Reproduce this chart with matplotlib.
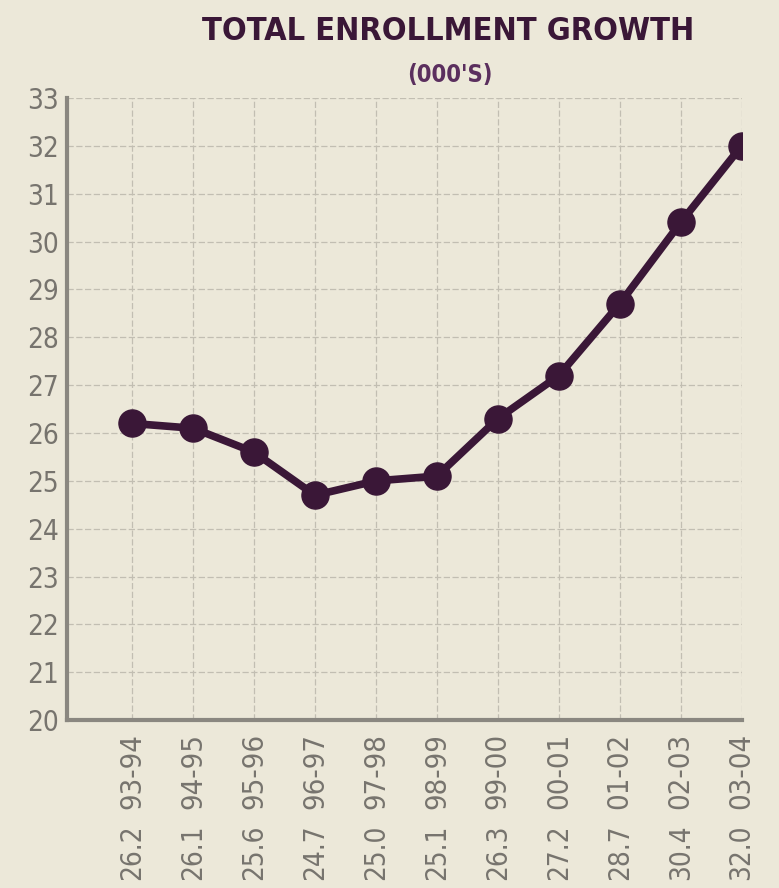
import matplotlib.pyplot as plt
from matplotlib import font_manager, transforms

years = ['93-94', '94-95', '95-96', '96-97', '97-98', '98-99',
         '99-00', '00-01', '01-02', '02-03', '03-04']
enrollment = [26.2, 26.1, 25.6, 24.7, 25.0, 25.1, 26.3, 27.2, 28.7, 30.4, 32.0]
y_ticks = list(range(20, 34))

# look for a narrow / condensed face, otherwise Roboto
narrow = [f for f in font_manager.fontManager.ttflist
          if 'narrow' in f.name.lower() or 'condensed' in f.name.lower()
          or 'narrow' in f.fname.lower() or 'condensed' in f.fname.lower()]
family = narrow[0].name if narrow else 'Roboto'
plt.rcParams['font.family'] = [family, 'DejaVu Sans']
stretch = 'condensed' if narrow else 'normal'

bg = '#ece8d9'
purple = '#3a1737'
grey = '#77746e'

fig = plt.figure(figsize=(7.79, 8.88), dpi=100, facecolor=bg)
ax = fig.add_axes([0.086, 0.189, 0.866, 0.7006])
ax.set_facecolor(bg)

x = list(range(len(years)))
ax.plot(x, enrollment, color=purple, linewidth=5.5, marker='o',
        markersize=19.5, markerfacecolor=purple, markeredgecolor=purple, zorder=3)

ax.set_xlim(-1.07, len(years) - 1)
ax.set_ylim(20, 33)
ax.set_yticks(y_ticks)
ax.set_xticks(x)
ax.set_xticklabels(years, rotation=90, va='top')
ax.tick_params(axis='y', labelsize=20, labelcolor=grey, length=0, pad=6)
ax.tick_params(axis='x', labelsize=21, labelcolor=grey, length=0, pad=9)
for lab in ax.get_xticklabels() + ax.get_yticklabels():
    lab.set_fontstretch(stretch)

ax.grid(True, color='#c2beb2', linestyle=(0, (5, 2)), linewidth=0.9)
ax.set_axisbelow(True)

for s in ['top', 'right']:
    ax.spines[s].set_visible(False)
for s in ['left', 'bottom']:
    ax.spines[s].set_color('#8a8780')
    ax.spines[s].set_linewidth(3)

# value labels at the foot of the figure, under the year labels
foot = transforms.blended_transform_factory(ax.transData, fig.transFigure)
for i, v in enumerate(enrollment):
    ax.text(i, 0.009, f'{v:.1f}', transform=foot,
            rotation=90, ha='center', va='bottom', fontsize=20, color=grey,
            fontstretch=stretch)

title = fig.text(0.575, 0.964, 'TOTAL ENROLLMENT GROWTH', ha='center', va='center',
                 fontsize=32, fontweight='bold', color=purple, fontstretch=stretch)
sub = fig.text(0.578, 0.915, "(000'S)", ha='center', va='center',
               fontsize=17, fontweight='bold', color='#5b2f5e', fontstretch=stretch)

# shrink the title until it is as wide as in the reference (about 490 px)
r = fig.canvas.get_renderer()
w = title.get_window_extent(r).width
if w > 495:
    title.set_fontsize(32 * 492 / w)
w = sub.get_window_extent(r).width
if w > 90:
    sub.set_fontsize(17 * 86 / w)

fig.savefig('out.png', dpi=100, facecolor=bg)
